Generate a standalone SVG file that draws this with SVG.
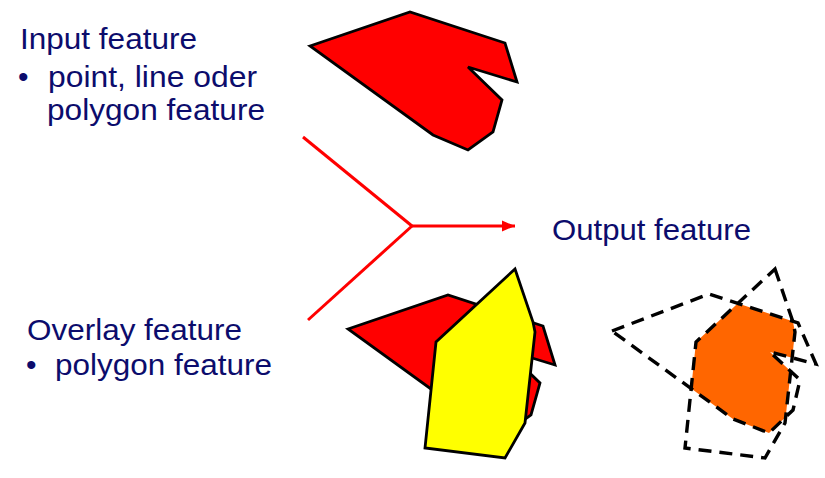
<svg xmlns="http://www.w3.org/2000/svg" width="825" height="478" viewBox="0 0 825 478">
<style>
.lbl{font-family:"Liberation Sans",Arial,sans-serif;font-size:30px;fill:#0c0c6c}
.red{fill:#ff0000;stroke:#000;stroke-width:2.8;stroke-linejoin:miter}
.yel{fill:#ffff00;stroke:#000;stroke-width:2.8}
.dash{fill:none;stroke:#000;stroke-width:3.4;stroke-dasharray:13 8}
.conn{fill:none;stroke:#ff0000;stroke-width:3}
</style>
<defs>
<clipPath id="yclip"><polygon points="775,269 793,322 795,332 785,423 765,458 685,448 696,342"/></clipPath>
<marker id="arr" markerUnits="userSpaceOnUse" markerWidth="14" markerHeight="12" refX="13" refY="6" orient="auto"><polygon points="0,0.5 13,6 0,11.5" fill="#ff0000"/></marker>
</defs>
<rect width="825" height="478" fill="#fff"/>
<g id="input-label">
<text class="lbl" x="20" y="49" textLength="177" lengthAdjust="spacingAndGlyphs">Input feature</text>
<text class="lbl" x="18" y="87">•</text>
<text class="lbl" x="48" y="87" textLength="209" lengthAdjust="spacingAndGlyphs">point, line oder</text>
<text class="lbl" x="47" y="120" textLength="218" lengthAdjust="spacingAndGlyphs">polygon feature</text>
</g>
<g id="overlay-label">
<text class="lbl" x="27" y="340" textLength="215" lengthAdjust="spacingAndGlyphs">Overlay feature</text>
<text class="lbl" x="26" y="375">•</text>
<text class="lbl" x="55" y="375" textLength="217" lengthAdjust="spacingAndGlyphs">polygon feature</text>
</g>
<g id="output-label">
<text class="lbl" x="552" y="240" textLength="199" lengthAdjust="spacingAndGlyphs">Output feature</text>
</g>
<g id="input-polygon">
<polygon class="red" points="310,46 410,12 505,43 517,82 468,67 502,100 493,132 468,150 433,135"/>
</g>
<g id="overlay-polygons">
<polygon class="red" points="348,329 448,295 543,326 555,365 506,350 540,383 531,415 506,433 471,418"/>
<polygon class="yel" points="515,269 533,322 535,332 525,423 505,458 425,448 436,342"/>
</g>
<g id="output-polygons">
<polygon fill="#ff6600" clip-path="url(#yclip)" points="612,331 709,294 798,323 816,364 770,352 800,380 793,410 769,433 733,419"/>
<polygon class="dash" points="612,331 709,294 798,323 816,364 770,352 800,380 793,410 769,433 733,419"/>
<polygon class="dash" points="775,269 793,322 795,332 785,423 765,458 685,448 696,342"/>
</g>
<g id="connectors">
<line class="conn" x1="303" y1="137" x2="412" y2="226"/>
<line class="conn" x1="308" y1="320" x2="412" y2="226"/>
<line class="conn" x1="412" y1="226" x2="515" y2="226" marker-end="url(#arr)"/>
</g>
</svg>
